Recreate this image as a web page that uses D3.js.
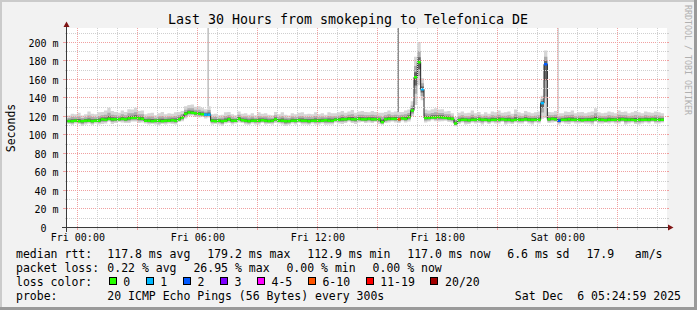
<!DOCTYPE html>
<html>
<head>
<meta charset="utf-8">
<script src="https://cdn.jsdelivr.net/npm/d3@7"></script>
<style>
  html, body { margin: 0; padding: 0; background: #f2f2f2; }
  svg { display: block; }
  text { font-family: "DejaVu Sans Mono", monospace; }
</style>
</head>
<body>
<div id="chart"></div>
<script>
// smokeping graph - last 30 hours to Telefonica DE

// ---------------- data (one sample every 10 minutes, first one Thu 23:30) ----------------
const sampleStart = Date.UTC(2025, 11, 4, 23, 30)
const stepMinutes = 10
const pingStepMinutes = 5

// median rtt in ms
const medianRtt = [
  115.5,115.5,116,115.5,115.5,116,116,115.5,116,116,117.5,117,118,117.5,117.5,117.5,118,117.5,
  118.5,119,119,118.5,118,116,116,115.5,116,116,115.5,116,116,116.5,116,117.5,119.5,123.5,
  125,124.5,124,123.5,123,122.5,122.5,116,115.5,116,115.5,116,117.5,116,116,118,116.5,116,
  115.5,116,116,116,116.5,116,115.5,116,117.5,116,116,115.5,115.5,116,116,116.5,116,116,
  115.5,116,116,116,116,116.5,116,116,117,117,117.5,117.5,118,117.5,117.5,118,117.5,117.5,
  118,117.5,117.5,117.5,114.5,117.5,118,118,118,117.5,118.5,118,120,127,163,179.2,150,119,
  119,119.5,119.5,120,119.5,119,118.5,118,113,116.5,117,117,116.5,117,117,117.5,117,117,
  116.5,117,117,117,117.5,117,117,116.5,117,117,117,117.5,117,117,117,117,135,177,
  117.5,118,117.5,116,117,117,117.5,117,117,117,116.5,117,117,117,117.5,117,117,116.5,
  117,117,117,117,117.5,117,117,117,116.5,117,117,117,117,117.5,117,117,117
]
// smoke: slowest ping above median, fastest ping below median (ms)
const smokeUp = [
  6,8,7,9,6,7,10,8,7,9,8,10,12,9,8,7,9,8,
  10,9,11,8,9,7,8,9,6,8,10,7,8,7,9,8,7,8,
  8,9,7,8,7,6,9,7,8,6,7,9,8,7,6,8,7,8,
  7,8,6,9,7,8,7,6,8,7,9,7,6,8,7,8,9,7,
  8,7,9,7,8,6,9,8,7,8,9,7,8,10,7,8,9,8,
  7,9,8,7,10,8,9,7,8,8,7,9,8,10,22,22,12,9,
  8,9,10,8,9,7,8,6,7,8,9,7,8,10,7,8,6,8,
  7,9,8,10,7,8,9,7,11,8,7,9,8,7,8,9,8,15,
  8,7,9,8,7,9,8,10,7,8,9,7,8,9,12,8,7,8,
  9,8,7,10,8,9,7,8,10,8,7,9,8,7,9,8,7
]
const smokeDown = [
  3,4,3,3,5,4,3,4,3,4,5,4,3,5,4,3,4,4,
  5,4,4,5,4,3,4,3,4,5,3,4,3,4,4,3,4,5,
  4,3,4,4,3,4,3,4,3,4,5,3,4,4,3,4,3,4,
  4,3,4,4,3,4,3,4,4,3,4,5,4,3,4,3,4,4,
  4,3,4,4,3,5,4,4,3,4,5,4,3,4,5,4,3,4,
  4,4,3,5,3,4,4,3,4,4,3,4,5,6,30,25,12,5,
  4,3,4,5,4,3,4,4,3,4,3,5,4,3,4,4,5,3,
  4,3,4,4,3,5,4,4,3,4,4,3,4,5,3,4,17,58,
  4,4,3,4,3,4,5,3,4,4,3,4,4,5,3,4,4,3,
  4,3,4,4,3,5,4,3,4,5,4,3,4,3,4,4,3
]
// samples with packet loss (index into the arrays above, loss class)
const lossIdx = [41, 42, 99, 106, 142, 143, 147]
const lossLevel = [1, 1, 5, 1, 1, 2, 2]
// probes where some pings went off the top of the graph
const tallIdx = [42, 99, 147]
const tallPings = [2, 5, 1]

const yTicks = [0, 20, 40, 60, 80, 100, 120, 140, 160, 180, 200]
const xLabelTimes = [
  Date.UTC(2025, 11, 5, 0), Date.UTC(2025, 11, 5, 6), Date.UTC(2025, 11, 5, 12),
  Date.UTC(2025, 11, 5, 18), Date.UTC(2025, 11, 6, 0)
]

const lossNames = ["0", "1", "2", "3", "4-5", "6-10", "11-19", "20/20"]
const lossColors = ["#26ff00", "#00b8ff", "#0059ff", "#7e00ff", "#ff00ff", "#ff5500", "#ff0000", "#a10000"]

const legendRtt = ["117.8 ms avg", "179.2 ms max", "112.9 ms min", "117.0 ms now", "6.6 ms sd", "17.9   am/s"]
const legendLoss = ["0.22 % avg", "26.95 % max", "0.00 % min", "0.00 % now"]
const probeText = "20 ICMP Echo Pings (56 Bytes) every 300s"
const stampText = "Sat Dec  6 05:24:59 2025"
const titleText = "Last 30 Hours from smokeping to Telefonica DE"

// ---------------- layout ----------------
const W = 697
const H = 310
const plot = { left: 67, right: 667, top: 28, bottom: 228 }
const charW = 6.94   // legend monospace advance
const legendX = 16
const itemX = 107.3
const itemGap = 16.7

// keep runs of spaces (svg collapses them)
const keep = (s) => s.replace(/ /g, "\u00a0")

const svg = d3.select("#chart").append("svg")
  .attr("width", W)
  .attr("height", H)

// background with the rrdtool shade border
svg.append("rect").attr("width", W).attr("height", H).attr("fill", "#f2f2f2")
svg.append("rect").attr("width", W).attr("height", 2).attr("fill", "#cbcbcb")
svg.append("rect").attr("width", 2).attr("height", H).attr("fill", "#cbcbcb")
svg.append("rect").attr("y", H - 3).attr("width", W).attr("height", 3).attr("fill", "#9a9a9a")
svg.append("rect").attr("x", W - 3).attr("width", 3).attr("height", H).attr("fill", "#9a9a9a")

// canvas
svg.append("rect")
  .attr("x", plot.left).attr("y", plot.top)
  .attr("width", plot.right - plot.left).attr("height", plot.bottom - plot.top)
  .attr("fill", "#ffffff")

svg.append("clipPath").attr("id", "clip")
  .append("rect")
  .attr("x", plot.left).attr("y", plot.top)
  .attr("width", plot.right - plot.left).attr("height", plot.bottom - plot.top)

// scales
const x = d3.scaleUtc()
  .domain([new Date(Date.UTC(2025, 11, 4, 23, 29)), new Date(Date.UTC(2025, 11, 6, 5, 29))])
  .range([plot.left, plot.right])
const y = d3.scaleLinear()
  .domain([0, 216.2])
  .range([plot.bottom, plot.top])

const tAt = (i) => new Date(sampleStart + i * stepMinutes * 60000)
const px = (v) => Math.floor(v) + 0.5
const py = (v) => Math.round(v) - 0.5

const samples = medianRtt.map((m, i) => ({ t: tAt(i), m: m, up: smokeUp[i], dn: smokeDown[i], loss: 0 }))
lossIdx.forEach((idx, k) => { samples[idx].loss = lossLevel[k] })
// closing point so the last step gets its width
const stepped = samples.concat([Object.assign({}, samples[samples.length - 1], { t: tAt(samples.length) })])

const g = svg.append("g").attr("clip-path", "url(#clip)")

// smoke, lighter the further from the median
const smokeLayers = [
  { hi: 1, lo: 1, color: "#d6d6d6" },
  { hi: 0.55, lo: 0.6, color: "#ababab" },
  { hi: 0.25, lo: 0.3, color: "#656565" },
]
smokeLayers.forEach((l) => {
  g.append("path")
    .datum(stepped)
    .attr("fill", l.color)
    .attr("d", d3.area()
      .curve(d3.curveStepAfter)
      .x((d) => x(d.t))
      .y0((d) => y(d.m - d.dn * l.lo))
      .y1((d) => y(d.m + d.up * l.hi)))
})

// probes with pings above the graph
const tallShade = d3.scaleLinear().domain([1, 5]).range(["#d6d6d6", "#8c8c8c"])
g.selectAll(".tall")
  .data(tallIdx.map((idx, k) => ({ s: samples[idx], n: tallPings[k] })))
  .join("rect")
  .attr("class", "tall")
  .attr("x", (d) => x(d.s.t))
  .attr("width", (d) => x(new Date(+d.s.t + pingStepMinutes * 60000)) - x(d.s.t))
  .attr("y", plot.top)
  .attr("height", (d) => y(d.s.m + d.s.up) - plot.top)
  .attr("fill", (d) => tallShade(d.n))

// grid
const grid = svg.append("g").attr("shape-rendering", "crispEdges")
const hours = x.ticks(d3.utcHour.every(1))
const yMinor = d3.range(10, 216, 10)

yMinor.forEach((v) => {
  const major = v % 20 === 0
  const c = major ? "#f0a0a0" : "#cfcfcf"
  grid.append("line")
    .attr("x1", plot.left).attr("x2", plot.right)
    .attr("y1", py(y(v))).attr("y2", py(y(v)))
    .attr("stroke", c).attr("stroke-dasharray", "1,1")
  grid.append("line")
    .attr("x1", plot.left - (major ? 4 : 2)).attr("x2", plot.left)
    .attr("y1", py(y(v))).attr("y2", py(y(v)))
    .attr("stroke", c)
  grid.append("line")
    .attr("x1", plot.right).attr("x2", plot.right + 2)
    .attr("y1", py(y(v))).attr("y2", py(y(v)))
    .attr("stroke", c)
})
hours.forEach((t) => {
  const major = t.getUTCHours() % 3 === 0
  const c = major ? "#f0a0a0" : "#cfcfcf"
  grid.append("line")
    .attr("x1", px(x(t))).attr("x2", px(x(t)))
    .attr("y1", plot.top).attr("y2", plot.bottom)
    .attr("stroke", c).attr("stroke-dasharray", "1,1")
  grid.append("line")
    .attr("x1", px(x(t))).attr("x2", px(x(t)))
    .attr("y1", plot.bottom).attr("y2", plot.bottom + 2)
    .attr("stroke", c)
})

// median: thin dark step line, then loss coloured segments on top
g.append("path")
  .datum(stepped)
  .attr("fill", "none")
  .attr("stroke", "#202020")
  .attr("stroke-width", 1)
  .attr("d", d3.line().curve(d3.curveStepAfter).x((d) => x(d.t)).y((d) => y(d.m)))

g.selectAll(".med")
  .data(samples)
  .join("line")
  .attr("class", "med")
  .attr("x1", (d) => x(d.t))
  .attr("x2", (d, i) => x(tAt(i + 1)))
  .attr("y1", (d) => y(d.m))
  .attr("y2", (d) => y(d.m))
  .attr("stroke", (d) => lossColors[d.loss])
  .attr("stroke-width", 2.5)

// axes
const yAxis = svg.append("g")
  .attr("transform", `translate(${plot.left - 0.5},0)`)
  .call(d3.axisLeft(y).tickValues(yTicks).tickSize(0).tickPadding(8)
    .tickFormat((d) => keep(d === 0 ? "0  " : d + " m")))
yAxis.select(".domain").remove()
yAxis.selectAll("text")
  .attr("font-family", "DejaVu Sans Mono")
  .attr("font-size", 10)
  .attr("fill", "#000")

const xAxis = svg.append("g")
  .attr("transform", `translate(0,${plot.bottom - 0.5})`)
  .call(d3.axisBottom(x).tickValues(xLabelTimes.map((d) => new Date(d))).tickSize(0).tickPadding(6)
    .tickFormat((d) => keep(d3.utcFormat("%a %H:%M")(d))))
xAxis.select(".domain").remove()
xAxis.selectAll("text")
  .attr("font-family", "DejaVu Sans Mono")
  .attr("font-size", 10)
  .attr("fill", "#000")

// axis lines with arrows
svg.append("line")
  .attr("x1", plot.left - 0.5).attr("x2", plot.left - 0.5)
  .attr("y1", plot.bottom + 4).attr("y2", plot.top - 5)
  .attr("stroke", "#3a3a3a").attr("shape-rendering", "crispEdges")
svg.append("line")
  .attr("x1", plot.left - 5).attr("x2", plot.right + 3)
  .attr("y1", plot.bottom - 0.5).attr("y2", plot.bottom - 0.5)
  .attr("stroke", "#3a3a3a").attr("shape-rendering", "crispEdges")
svg.append("path")
  .attr("d", `M${plot.left - 3.5},${plot.top - 1} L${plot.left + 2.5},${plot.top - 1} L${plot.left - 0.5},${plot.top - 6.5} Z`)
  .attr("fill", "#7f1414")
svg.append("path")
  .attr("d", `M${plot.right + 1},${plot.bottom - 3.5} L${plot.right + 1},${plot.bottom + 2.5} L${plot.right + 6.5},${plot.bottom - 0.5} Z`)
  .attr("fill", "#7f1414")

// title and side texts
svg.append("text")
  .attr("x", 348).attr("y", 24)
  .attr("text-anchor", "middle")
  .attr("font-size", 13.3)
  .attr("fill", "#000")
  .text(titleText)

svg.append("text")
  .attr("transform", "translate(15,128) rotate(-90)")
  .attr("text-anchor", "middle")
  .attr("font-size", 11.5)
  .attr("fill", "#000")
  .text("Seconds")

svg.append("text")
  .attr("transform", "translate(685,5) rotate(90)")
  .attr("font-size", 8.3)
  .attr("fill", "#b0b0b0")
  .text(keep("RRDTOOL / TOBI OETIKER"))

// legend
const legend = svg.append("g")
  .attr("font-size", 11.5)
  .attr("fill", "#000")

const rowY = [258, 272, 286, 300]
const rowItems = (items, yy) => {
  let xx = itemX
  items.forEach((s) => {
    legend.append("text").attr("x", xx).attr("y", yy).text(keep(s))
    xx += s.length * charW + itemGap
  })
}

legend.append("text").attr("x", legendX).attr("y", rowY[0]).text(keep("median rtt:"))
rowItems(legendRtt, rowY[0])
legend.append("text").attr("x", legendX).attr("y", rowY[1]).text(keep("packet loss:"))
rowItems(legendLoss, rowY[1])
legend.append("text").attr("x", legendX).attr("y", rowY[2]).text(keep("loss color:"))

let bx = 108.7
lossNames.forEach((name, i) => {
  legend.append("rect")
    .attr("x", Math.round(bx) + 0.5).attr("y", rowY[2] - 8.5)
    .attr("width", 7).attr("height", 7)
    .attr("fill", lossColors[i])
    .attr("stroke", "#000")
    .attr("shape-rendering", "crispEdges")
  legend.append("text").attr("x", bx + 14.6).attr("y", rowY[2]).text(name)
  bx += 14.6 + name.length * charW + 15.5
})

legend.append("text").attr("x", legendX).attr("y", rowY[3]).text(keep("probe:"))
legend.append("text").attr("x", itemX).attr("y", rowY[3]).text(keep(probeText))
legend.append("text").attr("x", 681).attr("y", rowY[3]).attr("text-anchor", "end").text(keep(stampText))
</script>
</body>
</html>
